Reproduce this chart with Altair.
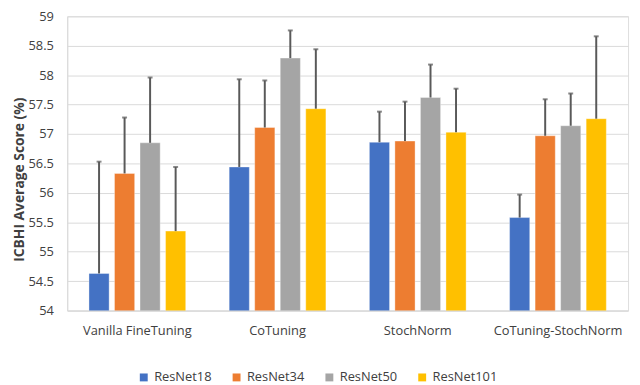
import altair as alt
import pandas as pd

categories = ["Vanilla FineTuning", "CoTuning", "StochNorm", "CoTuning-StochNorm"]
models = ["ResNet18", "ResNet34", "ResNet50", "ResNet101"]
colors = ["#4472C4", "#ED7D31", "#A5A5A5", "#FFC000"]

# mean scores per category, ordered by models
means = {
    "Vanilla FineTuning": [54.63, 56.33, 56.85, 55.35],
    "CoTuning": [56.44, 57.11, 58.29, 57.43],
    "StochNorm": [56.86, 56.88, 57.62, 57.03],
    "CoTuning-StochNorm": [55.58, 56.97, 57.14, 57.26],
}
# upper end of error bars
uppers = {
    "Vanilla FineTuning": [56.53, 57.28, 57.96, 56.44],
    "CoTuning": [57.93, 57.91, 58.76, 58.44],
    "StochNorm": [57.38, 57.55, 58.18, 57.77],
    "CoTuning-StochNorm": [55.97, 57.59, 57.69, 58.66],
}
y_ticks = [54, 54.5, 55, 55.5, 56, 56.5, 57, 57.5, 58, 58.5, 59]

rows = []
for c in categories:
    for i, m in enumerate(models):
        rows.append({"category": c, "model": m, "value": means[c][i], "upper": uppers[c][i]})
df = pd.DataFrame(rows)

FONT = "Open Sans"

x_axis = alt.Axis(
    title=None, labelAngle=0, ticks=False, domainColor="#d9d9d9",
    labelFontSize=13, labelColor="#404040", labelPadding=14, labelFont=FONT,
)
x_enc = alt.X(
    "category:N",
    sort=categories,
    scale=alt.Scale(paddingInner=0.31, paddingOuter=0.155),
    axis=x_axis,
)
xoff = alt.XOffset("model:N", sort=models, scale=alt.Scale(paddingInner=0.21, paddingOuter=0))
y_scale = alt.Scale(domain=[54, 59], nice=False, zero=False)
y_axis = alt.Axis(
    values=y_ticks, format="~f", title="ICBHI Average Score (%)",
    ticks=False, domainColor="#d9d9d9", gridColor="#d9d9d9", labelOverlap=False,
    labelFontSize=13, labelColor="#404040", labelPadding=14, labelFont=FONT,
    titleFontSize=14, titleFont=FONT, titleColor="#404040", titleFontWeight="bold",
    titleX=-48, titleY=165, titleAlign="center", titleBaseline="middle", titleAngle=-90,
)

bars = alt.Chart(df).mark_bar(clip=True, stroke="white", strokeWidth=0.6, strokeOpacity=0.6).encode(
    x=x_enc,
    xOffset=xoff,
    y=alt.Y("value:Q", scale=y_scale, axis=y_axis),
    color=alt.Color(
        "model:N",
        sort=models,
        scale=alt.Scale(domain=models, range=colors),
        legend=alt.Legend(
            title=None, orient="none", direction="horizontal", legendX=71, legendY=359,
            symbolType="square", symbolSize=64, symbolStrokeWidth=0, labelFontSize=13,
            labelFont=FONT, labelColor="#404040", labelOffset=4, columnPadding=18,
        ),
    ),
)

err = alt.Chart(df).mark_rule(color="#595959", strokeWidth=2).encode(
    x=x_enc,
    xOffset=xoff,
    y=alt.Y("value:Q", scale=y_scale, axis=y_axis),
    y2="upper:Q",
)

caps = alt.Chart(df).mark_tick(color="#595959", thickness=2, size=5).encode(
    x=x_enc,
    xOffset=xoff,
    y=alt.Y("upper:Q", scale=y_scale, axis=y_axis),
)

chart = (
    alt.layer(bars, err, caps)
    .properties(
        width=568, height=298,
        autosize=alt.AutoSizeParams(type="none"),
        padding={"left": 60, "top": 6, "right": 4, "bottom": 73},
    )
    .configure_view(stroke=None)
    .configure(background="white")
)

chart.save("out.html", embed_options={"renderer": "svg", "actions": False})
